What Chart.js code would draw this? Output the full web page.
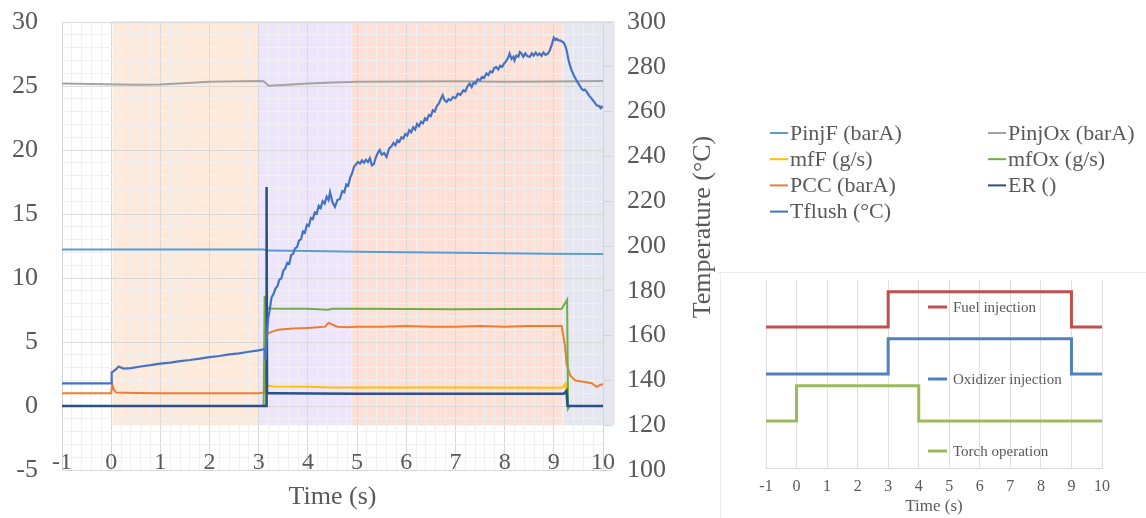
<!DOCTYPE html>
<html>
<head>
<meta charset="utf-8">
<script src="https://cdn.jsdelivr.net/npm/chart.js@4.4.1/dist/chart.umd.min.js"></script>
<style>
  html, body { margin: 0; padding: 0; background: #ffffff; }
  #wrap { position: relative; width: 1146px; height: 518px; overflow: hidden; }
  #main { position: absolute; left: 0; top: 0; }
  #inset { position: absolute; left: 718px; top: 272px; }
</style>
</head>
<body>
<div id="wrap">
  <canvas id="main" width="1146" height="518"></canvas>
  <canvas id="inset" width="428" height="246"></canvas>
</div>
<script>
// ---------------- DATA (main chart) ----------------
const seriesNames = ['PinjF (barA)', 'PinjOx (barA)', 'mfF (g/s)', 'mfOx (g/s)', 'PCC (barA)', 'ER ()', 'Tflush (\u00B0C)'];

const tPinjF = [-1, 3.1, 3.2, 4, 5, 6, 7, 8, 9, 10];
const vPinjF = [12.23, 12.23, 12.14, 12.1, 12.06, 12.02, 11.98, 11.94, 11.9, 11.88];

const tPinjOx = [-1, 0.5, 1, 2, 3.0, 3.1, 3.2, 3.5, 4, 4.5, 5, 6, 7, 8, 9, 10];
const vPinjOx = [25.2, 25.1, 25.12, 25.33, 25.4, 25.38, 25.02, 25.08, 25.2, 25.28, 25.33, 25.36, 25.37, 25.34, 25.35, 25.4];

const tMfF = [-1, 3.15, 3.17, 3.3, 4, 4.5, 5, 7, 9, 9.18, 9.24, 9.26, 9.28, 10];
const vMfF = [0, 0, 1.6, 1.52, 1.5, 1.45, 1.45, 1.45, 1.42, 1.45, 1.75, 0.5, 0, 0];

const tMfOx = [-1, 3.10, 3.12, 3.15, 3.2, 3.5, 4, 4.4, 4.5, 5, 6, 7, 8, 9, 9.16, 9.27, 9.29, 9.32, 10];
const vMfOx = [0, 0, 8.6, 7.8, 7.62, 7.6, 7.6, 7.52, 7.6, 7.6, 7.58, 7.56, 7.58, 7.58, 7.6, 8.3, -0.2, 0, 0];

const tPCC = [-1, 0, 0.02, 0.05, 0.1, 0.5, 1, 2, 3, 3.12, 3.13, 3.15, 3.17, 3.2, 3.3, 3.4, 3.5, 3.7, 4.0, 4.2, 4.35, 4.42, 4.5, 4.6, 4.8, 5, 5.5, 6, 6.5, 7, 7.5, 8, 8.5, 9, 9.16, 9.23, 9.26, 9.33, 9.43, 9.6, 9.77, 9.87, 9.94, 10];
const vPCC = [1.0, 1.0, 1.7, 1.3, 1.05, 1.02, 1.0, 1.0, 1.0, 1.05, 2.6, 3.0, 5.6, 5.7, 5.85, 5.95, 6.0, 6.05, 6.1, 6.15, 6.2, 6.5, 6.35, 6.2, 6.15, 6.2, 6.2, 6.25, 6.2, 6.2, 6.25, 6.2, 6.25, 6.25, 6.25, 4.6, 3.3, 2.4, 2.0, 1.9, 1.78, 1.5, 1.64, 1.7];

const tER = [-1, 3.15, 3.16, 3.17, 3.3, 5, 9.2, 9.26, 9.28, 10];
const vER = [0, 0, 17.1, 1.0, 1.0, 0.96, 0.95, 1.2, 0, 0];

const tTflush = [-1, 0, 0.01, 0.1, 0.15, 0.25, 0.4, 0.6, 0.8, 1.0,
  1.2, 1.4, 1.6, 1.8, 2.0, 2.2, 2.4, 2.6, 2.8, 3.0,
  3.1, 3.13, 3.14, 3.16, 3.19, 3.22, 3.26, 3.3, 3.34, 3.38,
  3.42, 3.46, 3.5, 3.54, 3.58, 3.62, 3.66, 3.7, 3.74, 3.78,
  3.82, 3.86, 3.9, 3.94, 3.98, 4.02, 4.06, 4.1, 4.14, 4.18,
  4.22, 4.26, 4.3, 4.34, 4.38, 4.42, 4.45, 4.5, 4.55, 4.6,
  4.65, 4.7, 4.74, 4.78, 4.82, 4.86, 4.9, 4.94, 4.98, 5.02,
  5.06, 5.1, 5.14, 5.18, 5.22, 5.26, 5.3, 5.34, 5.38, 5.42,
  5.46, 5.5, 5.55, 5.6, 5.65, 5.7, 5.74, 5.78, 5.82, 5.86,
  5.9, 5.94, 5.98, 6.02, 6.06, 6.1, 6.14, 6.18, 6.22, 6.26,
  6.3, 6.34, 6.38, 6.42, 6.46, 6.5, 6.54, 6.58, 6.62, 6.66,
  6.7, 6.74, 6.78, 6.82, 6.86, 6.9, 6.95, 7.0, 7.05, 7.1,
  7.16, 7.2, 7.25, 7.29, 7.33, 7.37, 7.41, 7.45, 7.5, 7.54,
  7.58, 7.63, 7.67, 7.71, 7.75, 7.79, 7.83, 7.87, 7.91, 7.95,
  7.99, 8.03, 8.07, 8.1, 8.14, 8.18, 8.2, 8.24, 8.28, 8.31,
  8.34, 8.38, 8.42, 8.46, 8.51, 8.55, 8.59, 8.63, 8.67, 8.71,
  8.75, 8.79, 8.83, 8.88, 8.92, 8.96, 9.0, 9.03, 9.06, 9.09,
  9.13, 9.16, 9.19, 9.23, 9.26, 9.3, 9.33, 9.36, 9.41, 9.46,
  9.5, 9.53, 9.56, 9.6, 9.63, 9.67, 9.72, 9.77, 9.82, 9.87,
  9.92, 9.95, 9.97, 10.0];
const vTflush = [138.7, 138.7, 143.5, 145, 146.2, 145.3, 145.5, 146.2, 146.8, 147.5,
  147.9, 148.6, 149.1, 149.7, 150.4, 150.9, 151.6, 152.1, 152.8, 153.4,
  153.9, 154.2, 149, 158, 167.5, 171, 177, 178.5, 181, 182,
  185, 185.5, 189, 190, 192.5, 192, 196, 196.5, 199, 199.5,
  202.5, 203, 206.5, 206, 209.5, 209, 212.5, 212, 215, 214.5,
  218, 217, 220, 219, 222, 220.5, 224, 219.5, 217.5, 220.5,
  221, 224.5, 224, 227.5, 227, 230.5, 232.5, 235.5, 236.5, 237.5,
  236.8, 238.2, 237.2, 238.5, 237.5, 239.2, 236, 236.5, 239.5, 241.5,
  242.8, 240.8, 241.5, 239.8, 243.5, 244.5, 246, 245, 247.2, 246.5,
  248.5, 248, 250, 249.3, 251.7, 250.8, 253, 252, 254.5, 253.5,
  255.5, 254.8, 257, 256.3, 258.5, 258, 260.6, 260, 262.5, 263.5,
  265.5, 267.3, 265, 264.3, 265.5, 265, 266.5, 266, 268, 267.5,
  269.5, 269, 271.5, 272.5, 271, 273, 272.5, 274.5, 274, 275.5,
  275, 277, 276.3, 278, 277.5, 279.5, 279.9, 278.8, 280.5, 280,
  281.5, 282.5, 284, 285.9, 283.5, 284.5, 282.9, 285, 284.5, 286.6,
  286, 284.5, 286, 284.8, 284.4, 286, 285, 286.3, 285.2, 285.9,
  284.9, 286.4, 285.3, 285.9, 287.4, 290, 293, 292, 292.5, 291.8,
  291.8, 291.3, 291.1, 289.5, 287.4, 283, 280.5, 278.5, 276, 274,
  272.5, 271.5, 270.3, 269.5, 269.8, 268.8, 267, 265.8, 264.3, 262.8,
  262.5, 261.6, 262.2, 261.8];

// test phases (shaded bands, right-axis range)
const phaseStart = [0.03, 3.0, 4.89, 9.18];
const phaseEnd   = [3.0, 4.89, 9.18, 10.24];
const phaseLow = 120;
const phaseHigh = 300.5;

// ---------------- DATA (inset timing diagram) ----------------
const timingNames = ['Fuel injection', 'Oxidizer injection', 'Torch operation'];
const tFuel = [-1, 3, 9, 10];
const lFuel = [12, 15, 12, 12];
const tOx = [-1, 3, 9, 10];
const lOx = [8, 11, 8, 8];
const tTorch = [-1, 0, 4, 10];
const lTorch = [4, 7, 4, 4];

// ---------------- helpers ----------------
const SERIF = "'Liberation Serif', 'Times New Roman', serif";
const TXT = '#595959';
const pts = (t, v) => t.map((x, i) => ({ x: x, y: v[i] }));
const isInt = v => Math.abs(v - Math.round(v)) < 1e-6;

const colors = ['#5b9bd5', '#a3a3a3', '#ffc000', '#70ad47', '#ed7d31', '#2b4f88', '#4472c4'];
const widths = [2, 2, 2, 2, 2, 2.5, 2.2];
const orders = [5, 6, 4, 2, 3, 1, 0];
const dataPairs = [[tPinjF, vPinjF], [tPinjOx, vPinjOx], [tMfF, vMfF], [tMfOx, vMfOx], [tPCC, vPCC], [tER, vER], [tTflush, vTflush]];

const mainDatasets = seriesNames.map((name, i) => ({
  label: name,
  data: pts(dataPairs[i][0], dataPairs[i][1]),
  borderColor: colors[i],
  backgroundColor: colors[i],
  borderWidth: widths[i],
  pointRadius: 0,
  tension: 0,
  fill: false,
  order: orders[i],
  yAxisID: i === 6 ? 'y1' : 'y'
}));

const phaseColors = ['#fdeadb', '#ece5fc', '#fde0d6', '#e5e6ef'];

const shadePlugin = {
  id: 'shade',
  beforeDraw(chart) {
    const ctx = chart.ctx, xs = chart.scales.x, ys = chart.scales.y1;
    ctx.save();
    phaseStart.forEach((s, i) => {
      const x0 = xs.getPixelForValue(s), x1 = xs.getPixelForValue(phaseEnd[i]);
      const y0 = ys.getPixelForValue(phaseHigh), y1 = ys.getPixelForValue(phaseLow);
      ctx.fillStyle = phaseColors[i];
      ctx.fillRect(x0, y0, x1 - x0, y1 - y0);
    });
    ctx.restore();
  }
};

const mainLegendPlugin = {
  id: 'mainLegend',
  afterDraw(chart) {
    const ctx = chart.ctx;
    ctx.save();
    ctx.font = '22px ' + SERIF;
    ctx.textBaseline = 'middle';
    ctx.textAlign = 'left';
    chart.data.datasets.forEach((ds, i) => {
      const col = i % 2, row = Math.floor(i / 2);
      const lx = col === 0 ? 770 : 988;
      const y = 133 + row * 26.2;
      ctx.strokeStyle = ds.borderColor;
      ctx.lineWidth = 2;
      ctx.beginPath();
      ctx.moveTo(lx, y);
      ctx.lineTo(lx + 18, y);
      ctx.stroke();
      ctx.fillStyle = TXT;
      ctx.fillText(ds.label, lx + 20, y + 1);
    });
    // right axis title (reads bottom-to-top)
    ctx.save();
    ctx.translate(703, 227);
    ctx.rotate(-Math.PI / 2);
    ctx.textAlign = 'center';
    ctx.font = '26px ' + SERIF;
    ctx.fillStyle = TXT;
    ctx.fillText('Temperature (\u00B0C)', 0, 0);
    ctx.restore();
    ctx.restore();
  }
};

const noVPad = s => { s.paddingTop = 0; s.paddingBottom = 0; };

new Chart(document.getElementById('main'), {
  type: 'line',
  data: { datasets: mainDatasets },
  options: {
    responsive: false,
    animation: false,
    events: [],
    layout: { padding: { top: 22, right: 423, left: 0, bottom: 0 } },
    plugins: { legend: { display: false }, tooltip: { enabled: false } },
    scales: {
      x: {
        type: 'linear', min: -1, max: 10,
        ticks: {
          stepSize: 0.2, autoSkip: false, maxRotation: 0, minRotation: 0, mirror: true, padding: -7,
          font: { family: SERIF, size: 24 }, color: TXT,
          callback: v => isInt(v) ? String(Math.round(v)) : ''
        },
        grid: {
          drawTicks: false,
          color: c => (c.tick && isInt(c.tick.value)) ? '#d9d9d9' : '#f0f0f0',
          lineWidth: 1
        },
        border: { display: false },
        title: { display: true, text: 'Time (s)', font: { family: SERIF, size: 26 }, color: TXT, padding: { top: 0, bottom: 5 } },
        afterFit: s => { s.height = 48; }
      },
      y: {
        position: 'left', min: -5, max: 30,
        ticks: {
          stepSize: 1, autoSkip: false, padding: 24,
          font: { family: SERIF, size: 26 }, color: TXT,
          callback: v => (Math.round(v) % 5 === 0) ? String(Math.round(v)) : ''
        },
        grid: {
          drawTicks: false,
          color: c => (c.tick && Math.round(c.tick.value) % 5 === 0) ? '#d9d9d9' : '#f0f0f0'
        },
        border: { display: true, color: '#d4d4d4' },
        afterFit: s => { s.width = 62; noVPad(s); }
      },
      y1: {
        position: 'right', min: 100, max: 300,
        ticks: { stepSize: 20, padding: 15, font: { family: SERIF, size: 26 }, color: TXT },
        grid: { drawOnChartArea: false, drawTicks: true, tickLength: 9, color: '#d4d4d4' },
        border: { display: true, color: '#d4d4d4' },
        afterFit: s => { s.width = 120; noVPad(s); }
      }
    }
  },
  plugins: [shadePlugin, mainLegendPlugin]
});

// ---------------- inset chart ----------------
const timingColors = ['#c0504d', '#4f81bd', '#9bbb59'];
const timingPairs = [[tFuel, lFuel], [tOx, lOx], [tTorch, lTorch]];

const insetPlugin = {
  id: 'insetDeco',
  beforeDraw(chart) {
    const ctx = chart.ctx;
    ctx.save();
    ctx.strokeStyle = '#ececec';
    ctx.lineWidth = 1;
    ctx.beginPath();
    ctx.moveTo(0, 0.5); ctx.lineTo(chart.width, 0.5);
    ctx.moveTo(2.5, 0); ctx.lineTo(2.5, chart.height);
    ctx.stroke();
    ctx.restore();
  },
  afterDraw(chart) {
    const ctx = chart.ctx, top = chart.chartArea.top;
    ctx.save();
    ctx.font = '15px ' + SERIF;
    ctx.textBaseline = 'middle';
    chart.data.datasets.forEach((ds, i) => {
      const y = top + 27 + i * 72;
      ctx.strokeStyle = ds.borderColor;
      ctx.lineWidth = 3;
      ctx.beginPath();
      ctx.moveTo(210, y); ctx.lineTo(229, y);
      ctx.stroke();
      ctx.fillStyle = TXT;
      ctx.fillText(ds.label, 235, y + 1);
    });
    ctx.restore();
  }
};

new Chart(document.getElementById('inset'), {
  type: 'line',
  data: {
    datasets: timingNames.map((name, i) => ({
      label: name,
      data: pts(timingPairs[i][0], timingPairs[i][1]),
      borderColor: timingColors[i],
      backgroundColor: timingColors[i],
      borderWidth: 3,
      pointRadius: 0,
      stepped: true,
      fill: false
    }))
  },
  options: {
    responsive: false,
    animation: false,
    events: [],
    layout: { padding: { top: 8, left: 48, right: 44, bottom: 0 } },
    plugins: { legend: { display: false }, tooltip: { enabled: false } },
    scales: {
      x: {
        type: 'linear', min: -1, max: 10,
        ticks: { stepSize: 1, autoSkip: false, maxRotation: 0, padding: 9, font: { family: SERIF, size: 16 }, color: TXT },
        grid: { drawTicks: false, color: '#e0e0e0' },
        border: { display: true, color: '#d9d9d9' },
        title: { display: true, text: 'Time (s)', font: { family: SERIF, size: 17 }, color: TXT, padding: { top: 0, bottom: 1 } },
        afterFit: s => { s.height = 50; }
      },
      y: { display: false, min: 0, max: 16 }
    }
  },
  plugins: [insetPlugin]
});
</script>
</body>
</html>
